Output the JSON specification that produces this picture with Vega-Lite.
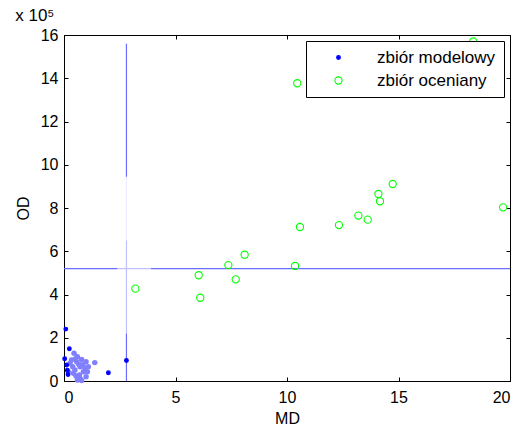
{
  "$schema": "https://vega.github.io/schema/vega-lite/v6.json",
  "width": 446,
  "height": 346,
  "autosize": "none",
  "padding": {"left": 64, "top": 35, "right": 12, "bottom": 47},
  "background": "white",
  "title": {"text": "x 10⁵", "anchor": "start", "offset": 2, "fontSize": 17, "fontWeight": "normal", "font": "Liberation Sans", "color": "black"},
  "config": {
    "view": {"stroke": "black", "strokeWidth": 1},
    "font": "Liberation Sans",
    "axis": {"grid": false, "domainColor": "black", "tickColor": "black", "labelColor": "black", "titleColor": "black", "labelFont": "Liberation Sans", "titleFont": "Liberation Sans", "labelFontSize": 16, "titleFontSize": 16, "titleFontWeight": "normal", "tickSize": -4, "labelPadding": 6},
    "legend": {"orient": "top-right", "offset": 6, "strokeColor": "black", "fillColor": "white", "padding": 8, "labelFont": "Liberation Sans", "labelFontSize": 17, "labelColor": "black", "rowPadding": 5, "labelOffset": 30, "symbolOffset": 16, "symbolStrokeWidth": 1.1}
  },
  "datasets": {
    "linie": [
      {"x": 2.8, "x2": 2.8, "y": 9.44, "y2": 15.6, "ton": "ciemny"},
      {"x": 2.8, "x2": 2.8, "y": 6.5, "y2": 9.44, "ton": "blady"},
      {"x": 2.8, "x2": 2.8, "y": 2.2, "y2": 6.5, "ton": "jasny"},
      {"x": 2.8, "x2": 2.8, "y": 0, "y2": 2.2, "ton": "ciemny"},
      {"x": 0, "x2": 2.4, "y": 5.2, "y2": 5.2, "ton": "ciemny"},
      {"x": 2.4, "x2": 3.9, "y": 5.2, "y2": 5.2, "ton": "jasny"},
      {"x": 3.9, "x2": 20, "y": 5.2, "y2": 5.2, "ton": "ciemny"}
    ],
    "jasne": [
      {"MD": 0.45, "OD": 1.28}, {"MD": 0.6, "OD": 1.12}, {"MD": 0.99, "OD": 0.89}, {"MD": 1.38, "OD": 0.85},
      {"MD": 0.27, "OD": 0.82}, {"MD": 0.72, "OD": 0.66}, {"MD": 1.09, "OD": 0.66}, {"MD": 0.49, "OD": 0.51},
      {"MD": 0.87, "OD": 0.43}, {"MD": 0.19, "OD": 0.43}, {"MD": 0.69, "OD": 0.28}, {"MD": 0.99, "OD": 0.2},
      {"MD": 0.6, "OD": 0.05}, {"MD": 0.79, "OD": 0.02}, {"MD": 0.34, "OD": 0.97}, {"MD": 0.57, "OD": 0.89},
      {"MD": 0.79, "OD": 1.0}, {"MD": 0.39, "OD": 0.66}, {"MD": 0.94, "OD": 0.59}, {"MD": 0.72, "OD": 0.12},
      {"MD": 0.54, "OD": 0.23}, {"MD": 1.05, "OD": 0.43}, {"MD": 0.66, "OD": 0.78}, {"MD": 0.5, "OD": 1.02},
      {"MD": 0.84, "OD": 0.75}, {"MD": 0.42, "OD": 0.36}
    ],
    "punkty": [
      {"MD": 0.08, "OD": 2.4, "zbior": "zbiór modelowy"},
      {"MD": 0.24, "OD": 1.49, "zbior": "zbiór modelowy"},
      {"MD": 0.03, "OD": 1.03, "zbior": "zbiór modelowy"},
      {"MD": 0.12, "OD": 0.74, "zbior": "zbiór modelowy"},
      {"MD": 0.15, "OD": 0.5, "zbior": "zbiór modelowy"},
      {"MD": 0.18, "OD": 0.3, "zbior": "zbiór modelowy"},
      {"MD": 1.99, "OD": 0.38, "zbior": "zbiór modelowy"},
      {"MD": 2.8, "OD": 0.95, "zbior": "zbiór modelowy"},
      {"MD": 3.2, "OD": 4.27, "zbior": "zbiór oceniany"},
      {"MD": 6.04, "OD": 4.89, "zbior": "zbiór oceniany"},
      {"MD": 6.11, "OD": 3.85, "zbior": "zbiór oceniany"},
      {"MD": 7.37, "OD": 5.36, "zbior": "zbiór oceniany"},
      {"MD": 7.7, "OD": 4.7, "zbior": "zbiór oceniany"},
      {"MD": 8.1, "OD": 5.84, "zbior": "zbiór oceniany"},
      {"MD": 10.36, "OD": 5.32, "zbior": "zbiór oceniany"},
      {"MD": 10.58, "OD": 7.12, "zbior": "zbiór oceniany"},
      {"MD": 12.33, "OD": 7.21, "zbior": "zbiór oceniany"},
      {"MD": 13.2, "OD": 7.65, "zbior": "zbiór oceniany"},
      {"MD": 13.62, "OD": 7.46, "zbior": "zbiór oceniany"},
      {"MD": 14.1, "OD": 8.65, "zbior": "zbiór oceniany"},
      {"MD": 14.17, "OD": 8.31, "zbior": "zbiór oceniany"},
      {"MD": 14.74, "OD": 9.11, "zbior": "zbiór oceniany"},
      {"MD": 19.69, "OD": 8.03, "zbior": "zbiór oceniany"},
      {"MD": 10.46, "OD": 13.77, "zbior": "zbiór oceniany"},
      {"MD": 18.35, "OD": 15.7, "zbior": "zbiór oceniany"}
    ]
  },
  "layer": [
    {
      "data": {"name": "linie"},
      "mark": {"type": "rule", "strokeWidth": 1.2},
      "encoding": {
        "x": {"field": "x", "type": "quantitative", "scale": {"domain": [0, 20], "nice": false}, "axis": {"orient": "top", "labels": false, "title": null, "values": [0, 5, 10, 15, 20]}},
        "x2": {"field": "x2"},
        "y": {"field": "y", "type": "quantitative", "scale": {"domain": [0, 16], "nice": false}, "axis": {"orient": "right", "labels": false, "title": null, "values": [0, 2, 4, 6, 8, 10, 12, 14, 16]}},
        "y2": {"field": "y2"},
        "color": {"field": "ton", "type": "nominal", "scale": {"domain": ["ciemny", "jasny", "blady"], "range": ["#6c6cff", "#c0c0ff", "#ececff"]}, "legend": null}
      }
    },
    {
      "data": {"name": "jasne"},
      "mark": {"type": "circle", "size": 30, "color": "#8080ff", "opacity": 1},
      "encoding": {
        "x": {"field": "MD", "type": "quantitative", "axis": null},
        "y": {"field": "OD", "type": "quantitative", "axis": null}
      }
    },
    {
      "data": {"name": "punkty"},
      "mark": {"type": "point", "shape": "circle", "strokeWidth": 1.1, "opacity": 1},
      "encoding": {
        "x": {"field": "MD", "type": "quantitative", "axis": {"orient": "bottom", "title": "MD", "values": [0, 5, 10, 15, 20], "labelPadding": 12, "titlePadding": 5}},
        "y": {"field": "OD", "type": "quantitative", "axis": {"orient": "left", "title": "OD", "values": [0, 2, 4, 6, 8, 10, 12, 14, 16], "labelPadding": 10, "titlePadding": 9}},
        "stroke": {"field": "zbior", "type": "nominal", "scale": {"domain": ["zbiór modelowy", "zbiór oceniany"], "range": ["#0000ff", "#00ff00"]}, "title": null},
        "fill": {"field": "zbior", "type": "nominal", "scale": {"domain": ["zbiór modelowy", "zbiór oceniany"], "range": ["#0000ff", "transparent"]}, "title": null},
        "size": {"field": "zbior", "type": "nominal", "scale": {"domain": ["zbiór modelowy", "zbiór oceniany"], "range": [14, 52]}, "title": null}
      }
    }
  ],
  "resolve": {"axis": {"x": "independent", "y": "independent"}}
}
